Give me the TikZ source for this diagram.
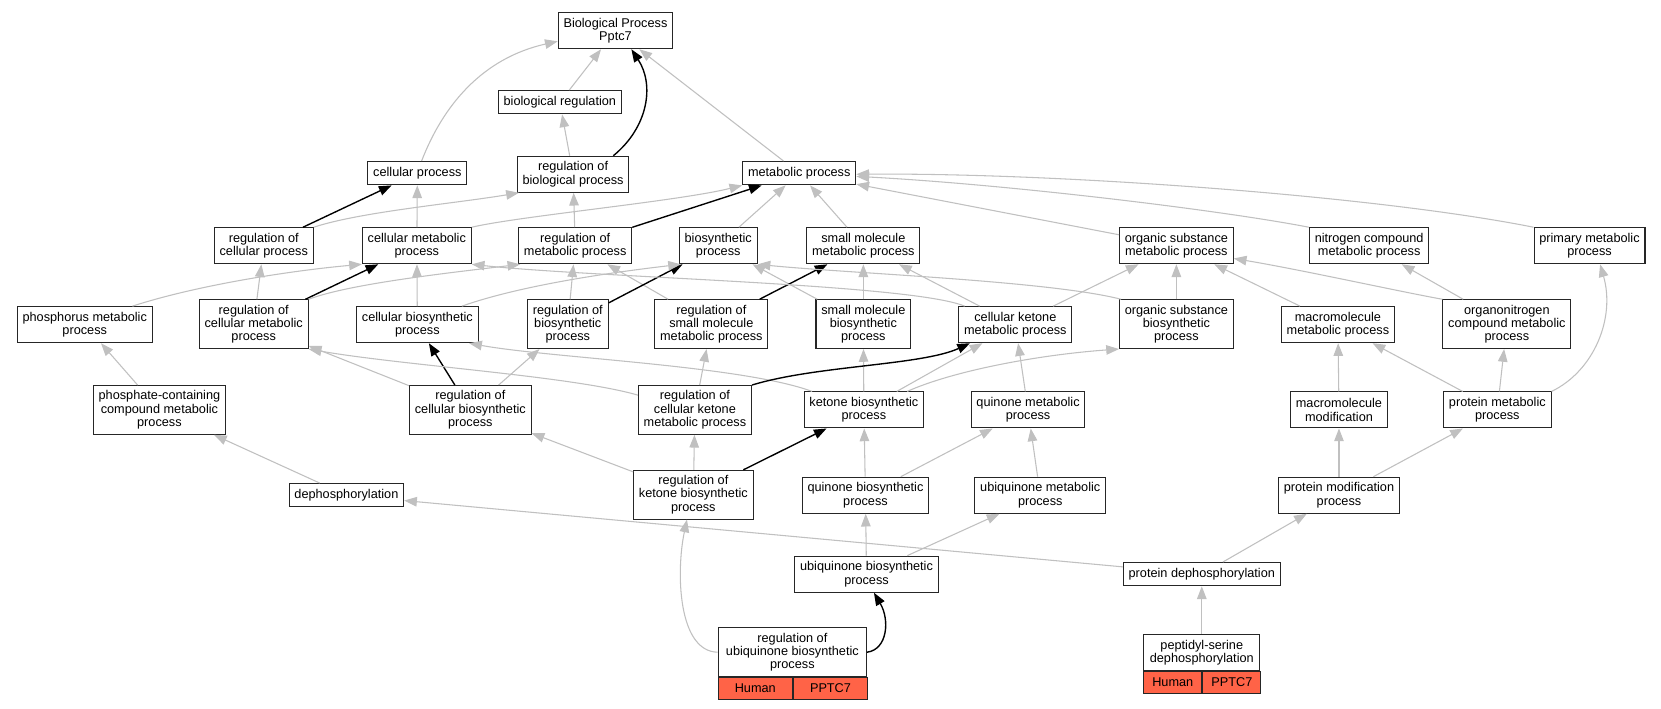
\documentclass[tikz,border=0pt]{standalone}
\usepackage{fontspec}
\setmainfont{Liberation Sans}
\usepackage{tikz}
\usetikzlibrary{arrows.meta}

\definecolor{isagray}{RGB}{192,192,192}
\definecolor{genered}{RGB}{255,99,71}

\begin{document}
\begin{tikzpicture}
	 [x=1pt,y=-1pt,
	  every node/.style={draw=black!85,line width=1pt,fill=white,align=center,inner xsep=5pt,inner ysep=2pt,minimum height=22pt,font=\fontsize{12}{12.6}\selectfont},
	  two/.style={minimum height=34pt},
	  three/.style={minimum height=46pt},
	  genecell/.style={fill=genered,inner sep=0pt},
	  isa/.style={draw=isagray,line width=1pt,-{Triangle[length=12pt,width=9pt,fill=isagray]}},
	  regs/.style={draw=black,line width=1.3pt,-{Triangle[length=12pt,width=9pt]}}]

	\useasboundingbox[fill=white] (0,0) rectangle (1568,669.3);

	  \node (bp)[two] at (581,29) {Biological Process\\Pptc7};
	  \node (biorg) at (528.5,96.5) {biological regulation};

	  \node (cellp) at (394,163.5) {cellular process};
	  \node (regbp)[two] at (541,164.5) {regulation of\\biological process};
	  \node (metp) at (754.5,163.5) {metabolic process};

	  \node (regcp)[two] at (249,232) {regulation of\\cellular process};
	  \node (cmetp)[two] at (393.5,232) {cellular metabolic\\process};
	  \node (regmp)[two] at (543,232) {regulation of\\metabolic process};
	  \node (biosp)[two] at (678,232) {biosynthetic\\process};
	  \node (smmp)[two] at (815,232) {small molecule\\metabolic process};
	  \node (osmp)[two] at (1110.5,232) {organic substance\\metabolic process};
	  \node (ncmp)[two] at (1292.5,232) {nitrogen compound\\metabolic process};
	  \node (pmp)[two] at (1500.5,232) {primary metabolic\\process};

	  \node (phosp)[two] at (80,306.5) {phosphorus metabolic\\process};
	  \node (regcmp)[three] at (239.5,306) {regulation of\\cellular metabolic\\process};
	  \node (cbiop)[two] at (394,306.5) {cellular biosynthetic\\process};
	  \node (regbiop)[three] at (536,306) {regulation of\\biosynthetic\\process};
	  \node (regsmp)[three] at (671.5,306) {regulation of\\small molecule\\metabolic process};
	  \node (smbp)[three] at (815,306) {small molecule\\biosynthetic\\process};
	  \node (ckmp)[two] at (958.5,306.5) {cellular ketone\\metabolic process};
	  \node (osbp)[three] at (1110.5,306) {organic substance\\biosynthetic\\process};
	  \node (mmmp)[two] at (1263,306.5) {macromolecule\\metabolic process};
	  \node (onmp)[three] at (1422.5,306) {organonitrogen\\compound metabolic\\process};

	  \node (phcp)[three] at (150.5,387) {phosphate-containing\\compound metabolic\\process};
	  \node (regcbp)[three] at (444,387) {regulation of\\cellular biosynthetic\\process};
	  \node (regckp)[three] at (656,387) {regulation of\\cellular ketone\\metabolic process};
	  \node (kbp)[two] at (815.5,387) {ketone biosynthetic\\process};
	  \node (qmp)[two] at (970.5,387) {quinone metabolic\\process};
	  \node (mmod)[two] at (1264,387) {macromolecule\\modification};
	  \node (protmp)[two] at (1413.5,387) {protein metabolic\\process};

	  \node (dephos) at (327,467.5) {dephosphorylation};
	  \node (regkbp)[three] at (654.5,467) {regulation of\\ketone biosynthetic\\process};
	  \node (qbp)[two] at (817,467.5) {quinone biosynthetic\\process};
	  \node (uqmp)[two] at (982,467.5) {ubiquinone metabolic\\process};
	  \node (pmod)[two] at (1264,467.5) {protein modification\\process};

	  \node (uqbp)[two] at (818,542) {ubiquinone biosynthetic\\process};
	  \node (pdephos) at (1134.5,542) {protein dephosphorylation};

	  \node (reguqbp)[minimum width=140pt,minimum height=46.2pt] at (748,615.7) {regulation of\\ubiquinone biosynthetic\\process};
	  \node (h1)[genecell,minimum width=70pt,minimum height=20.5pt,anchor=north west] at (reguqbp.south west) {Human};
	  \node (g1)[genecell,minimum width=70pt,minimum height=20.5pt,anchor=north west] at (h1.north east) {PPTC7};

	  \node (psdephos)[minimum width=109.5pt,minimum height=34.3pt] at (1134.5,616) {peptidyl-serine\\dephosphorylation};
	  \node (h2)[genecell,minimum width=54.75pt,minimum height=20.2pt,anchor=north west] at (psdephos.south west) {Human};
	  \node (g2)[genecell,minimum width=54.75pt,minimum height=20.2pt,anchor=north west] at (h2.north east) {PPTC7};

	\foreach \from/\to in {biorg/bp,metp/bp,regbp/biorg,cmetp/cellp,regmp/regbp,biosp/metp,smmp/metp,osmp/metp,
	    regcmp/regcp,cbiop/cmetp,regbiop/regmp,regsmp/regmp,smbp/biosp,smbp/smmp,ckmp/smmp,ckmp/osmp,osbp/osmp,
	    mmmp/osmp,onmp/ncmp,phcp/phosp,regcbp/regcmp,regcbp/regbiop,regckp/regsmp,kbp/smbp,kbp/ckmp,qmp/ckmp,
	    mmod/mmmp,protmp/mmmp,protmp/onmp,dephos/phcp,regkbp/regcbp,regkbp/regckp,qbp/kbp,qbp/qmp,uqmp/qmp,
	    pmod/mmod,pmod/protmp,uqbp/qbp,uqbp/uqmp,pdephos/pmod,pdephos/dephos,psdephos/pdephos}
    \draw[isa] (\from) -- (\to);

	\foreach \from/\to in {regcp/cellp,regmp/metp,regcmp/cmetp,regbiop/biosp,regsmp/smmp,regcbp/cbiop,regkbp/kbp}
    \draw[regs] (\from) -- (\to);

	% curved is_a edges
	\draw[isa] ([xshift=4pt]cellp.north) .. controls (418,100) and (455,55) .. ([yshift=-10pt]bp.west);
	\draw[isa] (regcp.north east) .. controls (340,200) and (430,192) .. ([xshift=2pt]regbp.south west);
	\draw[isa] (cmetp.north east) .. controls (490,204) and (640,190) .. (metp.south west);
	\draw[isa] (ncmp.north west) .. controls (1150,198) and (950,174) .. ([yshift=-3pt]metp.east);
	\draw[isa] (pmp.north west) .. controls (1300,185) and (1000,163) .. ([yshift=-1pt]metp.east);
	\draw[isa] ([xshift=45pt]phosp.north) .. controls (190,268) and (280,255) .. (cmetp.south west);
	\draw[isa] ([xshift=6pt]ckmp.north west) .. controls (860,268) and (560,262) .. (cmetp.south east);
	\draw[isa] (regcmp.north east) .. controls (330,268) and (420,258) .. ([xshift=2pt]regmp.south west);
	\draw[isa] ([xshift=42pt]cbiop.north) .. controls (490,270) and (570,258) .. ([xshift=2pt]biosp.south west);
	\draw[isa] ([xshift=2pt]osbp.north west) .. controls (990,265) and (800,258) .. (biosp.south east);
	\draw[isa] (onmp.north west) .. controls (1320,275) and (1230,255) .. ([yshift=-12pt]osmp.east);
	\draw[isa] ([yshift=14pt]regckp.west) .. controls (540,355) and (380,345) .. (regcmp.south east);
	\draw[isa] ([xshift=8pt]kbp.north west) .. controls (700,345) and (520,338) .. ([xshift=-9pt]cbiop.south east);
	\draw[isa] ([xshift=-16pt]kbp.north east) .. controls (900,350) and (980,335) .. (osbp.south west);
	\draw[isa] (protmp.north east) .. controls (1505,350) and (1525,300) .. ([xshift=10pt]pmp.south);
	\draw[isa] (reguqbp.west) .. controls (640,615) and (638,540) .. ([xshift=-6pt]regkbp.south);

	% curved regulates edges
	\draw[regs] ([xshift=38pt]regbp.north) .. controls (612,120) and (618,80) .. ([xshift=15pt]bp.south);
	\draw[regs] (regckp.north east) .. controls (770,345) and (870,345) .. ([xshift=11pt]ckmp.south west);
	\draw[regs] (reguqbp.east) .. controls (838,613) and (840,585) .. ([xshift=7pt]uqbp.south);

\end{tikzpicture}
\end{document}
